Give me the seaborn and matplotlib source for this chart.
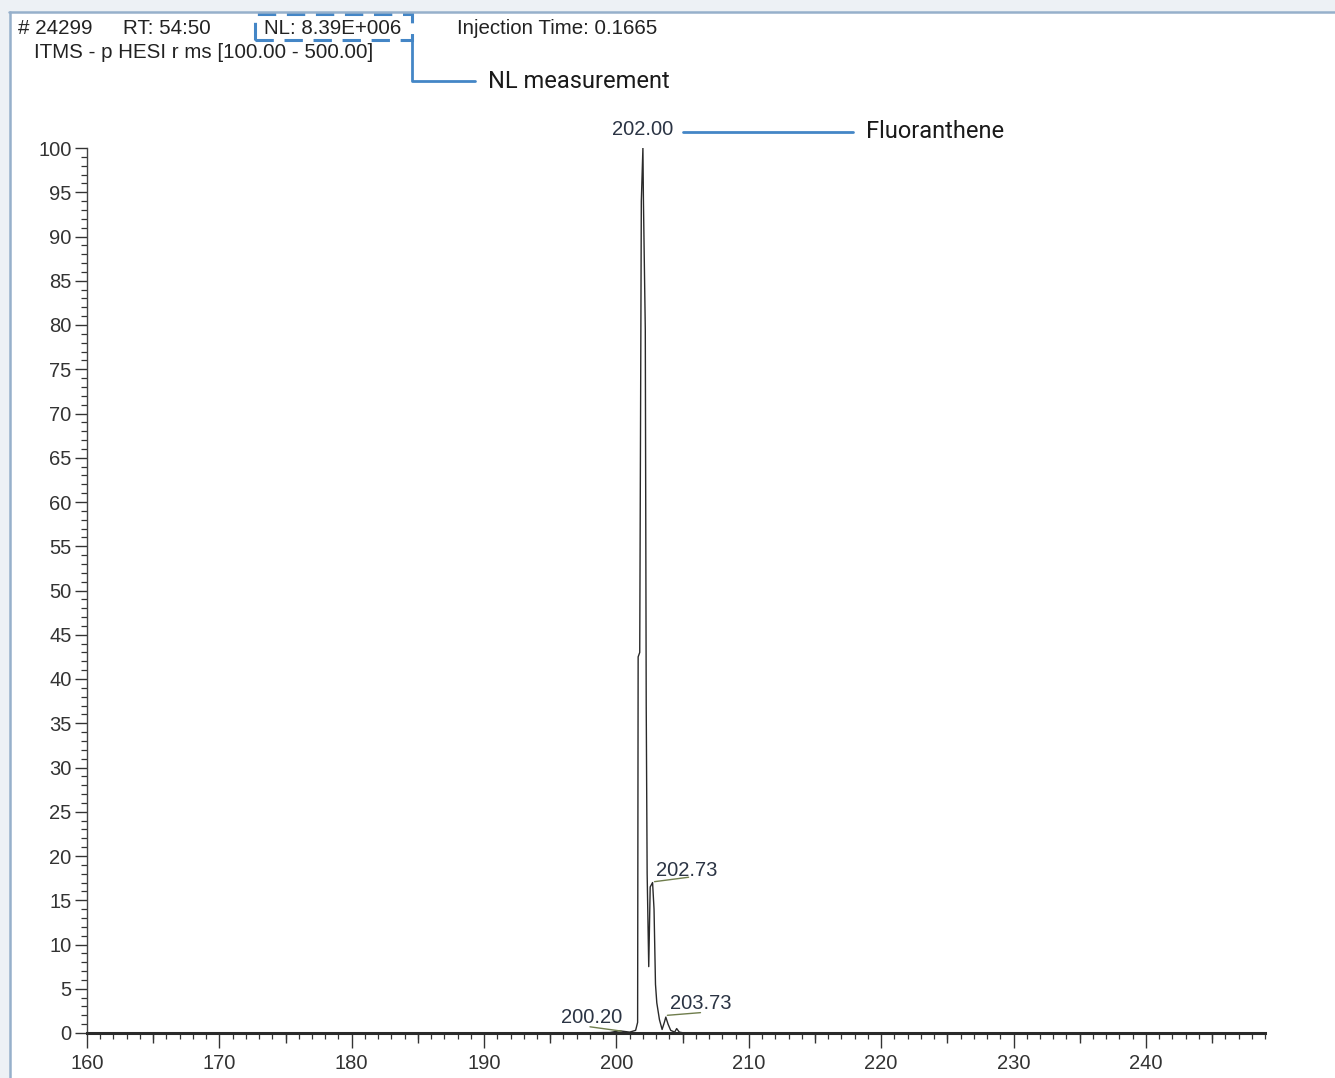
import numpy as np
import pandas as pd
import matplotlib.pyplot as plt
import seaborn as sns
from matplotlib.ticker import MultipleLocator
from matplotlib.patches import Rectangle
from matplotlib.lines import Line2D

# profile spectrum (m/z, relative abundance)
mz = [160.0, 195.0, 199.5, 200.20, 201.00, 201.45, 201.60, 201.64, 201.76, 201.88,
      202.00, 202.04, 202.18, 202.25, 202.32, 202.44, 202.55, 202.73, 202.84,
      202.95, 203.05, 203.25, 203.45, 203.62, 203.73, 203.90, 204.10, 204.40,
      204.55, 204.75, 205.10, 249.0]
abundance = [0.0, 0.0, 0.05, 0.25, 0.1, 0.3, 1.2, 42.5, 43.0, 94.0,
             100.0, 94.0, 79.5, 37.0, 18.0, 7.5, 16.5, 17.0, 14.0,
             5.5, 3.4, 1.5, 0.4, 1.2, 1.8, 1.0, 0.3, 0.1,
             0.5, 0.1, 0.0, 0.0]

# labelled peaks: text, label anchor (mz, abundance), leader line start/end
peak_text = ["200.20", "202.73", "203.73"]
peak_label_x = [198.14, 202.98, 204.03]
peak_label_y = [1.70, 18.4, 3.3]
leader_x0 = [198.0, 202.88, 203.85]
leader_y0 = [0.70, 17.1, 2.0]
leader_x1 = [200.35, 205.45, 206.35]
leader_y1 = [0.22, 17.6, 2.3]

header = [("# 24299", 18), ("RT: 54:50", 123), ("NL: 8.39E+006", 264),
          ("Injection Time: 0.1665", 457)]
subheader = "ITMS - p HESI r ms [100.00 - 500.00]"

W, H = 1335, 1078
sns.set_style("ticks")
plt.rcParams['font.family'] = ['Liberation Sans', 'DejaVu Sans']
narrow = ['Roboto', 'DejaVu Sans']

fig = plt.figure(figsize=(W / 100, H / 100), dpi=100)
ax = fig.add_axes([87 / W, 1 - 1033 / H, (1265 - 87) / W, (1033 - 148) / H])

df = pd.DataFrame({"mz": mz, "abundance": abundance})
sns.lineplot(data=df, x="mz", y="abundance", ax=ax, estimator=None, sort=False,
             color="#2a2a2a", linewidth=1.0)

ax.set_xlim(160, 249)
ax.set_ylim(0, 100)
ax.set_xlabel("")
ax.set_ylabel("")
sns.despine(ax=ax)
ax.spines['bottom'].set_linewidth(2.2)
ax.spines['bottom'].set_color("#2a2a2a")
ax.spines['left'].set_linewidth(1.0)
ax.spines['left'].set_color("#444444")

ax.xaxis.set_major_locator(MultipleLocator(10))
ax.xaxis.set_minor_locator(MultipleLocator(1))
ax.yaxis.set_major_locator(MultipleLocator(5))
ax.yaxis.set_minor_locator(MultipleLocator(1))
ax.tick_params(which='major', length=9, width=1.0, color="#333333",
               labelsize=14.5, labelcolor="#333333", pad=2)
ax.tick_params(which='minor', length=4.5, width=0.9, color="#333333")
ax.tick_params(axis='x', which='major', length=11, pad=4)

# medium ticks every 5 on the x axis
sec = ax.secondary_xaxis('bottom')
sec.set_xticks(np.arange(165, 249, 10))
sec.set_xticklabels([])
sec.tick_params(length=7.5, width=1.0, color="#333333")
sec.spines['bottom'].set_visible(False)

# top peak label
ax.text(202.0, 101.0, "202.00", ha='center', va='bottom', fontsize=14.5,
        color="#2b3444")
for t, lx, ly, x0, y0, x1, y1 in zip(peak_text, peak_label_x, peak_label_y,
                                     leader_x0, leader_y0, leader_x1, leader_y1):
    ax.text(lx, ly, t, ha='left' if t != "200.20" else 'center', va='center',
            fontsize=14.5, color="#2b3444")
    ax.plot([x0, x1], [y0, y1], color="#6f7d4c", linewidth=1.0)


def fx(px):
    return px / W


def fy(py):
    return 1 - py / H


# window frame
fig.patches.append(Rectangle((0, fy(11)), 1, 11 / H, transform=fig.transFigure,
                             color="#edf1f5", zorder=0))
fig.patches.append(Rectangle((0, 0), 9 / W, 1, transform=fig.transFigure,
                             color="#edf1f5", zorder=0))
fig.lines.append(Line2D([fx(9), 1], [fy(12), fy(12)], transform=fig.transFigure,
                        color="#96b0cb", linewidth=1.8))
fig.lines.append(Line2D([fx(10), fx(10)], [0, fy(12)], transform=fig.transFigure,
                        color="#96b0cb", linewidth=1.8))

# header text
for txt, left in header:
    fig.text(fx(left), fy(28), txt, ha='left', va='center', fontsize=14.8,
             color="#222222")
fig.text(fx(34), fy(52), subheader, ha='left', va='center', fontsize=14.8,
         color="#222222")

# NL callout
blue = "#4486c6"
fig.patches.append(Rectangle((fx(255), fy(40)), (412 - 255) / W, 26 / H,
                             transform=fig.transFigure, fill=False,
                             edgecolor=blue, linewidth=2.2, linestyle=(0, (6, 3.5))))
fig.lines.append(Line2D([fx(412), fx(412), fx(475)], [fy(40), fy(81), fy(81)],
                        transform=fig.transFigure, color=blue, linewidth=2.0))
fig.text(fx(488), fy(81), "NL measurement", ha='left', va='center', fontsize=17,
         family=narrow, color="#1a1a1a")

# compound callout
fig.lines.append(Line2D([fx(683), fx(853)], [fy(132), fy(132)],
                        transform=fig.transFigure, color=blue, linewidth=2.0))
fig.text(fx(866), fy(132), "Fluoranthene", ha='left', va='center', fontsize=17,
         family=narrow, color="#1a1a1a")

fig.savefig("out.png", dpi=100)
